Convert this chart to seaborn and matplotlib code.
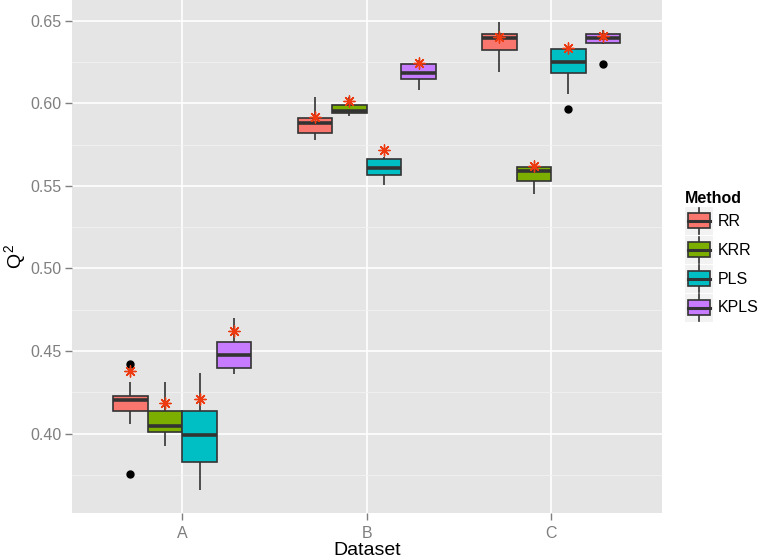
import numpy as np
import pandas as pd
import matplotlib
matplotlib.use("Agg")
import matplotlib.pyplot as plt
from matplotlib.legend_handler import HandlerBase
from matplotlib.patches import Rectangle, Patch
from matplotlib.lines import Line2D
from matplotlib.ticker import MultipleLocator, FormatStrFormatter
import seaborn as sns

plt.rcParams["font.family"] = ["Liberation Sans", "DejaVu Sans"]
plt.rcParams["mathtext.fontset"] = "custom"
plt.rcParams["mathtext.rm"] = "Liberation Sans"
plt.rcParams["mathtext.it"] = "Liberation Sans"

datasets = ["A", "B", "C"]
methods = ["RR", "KRR", "PLS", "KPLS"]
colors = ["#F8766D", "#7CAE00", "#00BFC4", "#C77CFF"]

# box summaries, order: A-RR, A-KRR, A-PLS, A-KPLS, B-..., C-...
q1 = [0.4135, 0.4008, 0.3826, 0.4396,
      0.5822, 0.5940, 0.5565, 0.6145,
      0.6322, 0.5529, 0.6185, 0.6363]
median = [0.4206, 0.4048, 0.3990, 0.4475,
          0.5880, 0.5953, 0.5607, 0.6183,
          0.6393, 0.5592, 0.6252, 0.6392]
q3 = [0.4230, 0.4135, 0.4135, 0.4556,
      0.5910, 0.5992, 0.5660, 0.6240,
      0.6422, 0.5613, 0.6327, 0.6418]
whisker_lo = [0.4055, 0.3923, 0.3660, 0.4358,
              0.5775, 0.5922, 0.5502, 0.6080,
              0.6191, 0.5452, 0.6058, 0.6357]
whisker_hi = [0.4313, 0.4311, 0.4367, 0.4697,
              0.6035, 0.6035, 0.5674, 0.6260,
              0.6489, 0.5625, 0.6340, 0.6444]
outlier_box = [("A", "RR"), ("A", "RR"), ("C", "PLS"), ("C", "KPLS")]
outlier_val = [0.4424, 0.3756, 0.5963, 0.6236]

# red asterisks
star = [0.4378, 0.4186, 0.4210, 0.4620,
        0.5916, 0.6013, 0.5719, 0.6242,
        0.6401, 0.5619, 0.6337, 0.6407]
star_color = "#EE3A10"

# rebuild a sample per box that reproduces the summary exactly
rows = []
star_rows = []
i = 0
for d in datasets:
    for m in methods:
        outs = [v for b, v in zip(outlier_box, outlier_val) if b == (d, m)]
        lo_out = [v for v in outs if v < q1[i]]
        hi_out = [v for v in outs if v > q3[i]]
        vals = (lo_out + [whisker_lo[i]] * (4 - len(lo_out)) + [q1[i]] * 4
                + [median[i]] + [q3[i]] * 4
                + [whisker_hi[i]] * (4 - len(hi_out)) + hi_out)
        rows += [(d, m, v) for v in vals]
        star_rows.append((d, m, star[i]))
        i += 1
df = pd.DataFrame(rows, columns=["Dataset", "Method", "Q2"])
stars = pd.DataFrame(star_rows, columns=["Dataset", "Method", "Q2"])

fig = plt.figure(figsize=(7.6, 5.59), dpi=100)
ax = fig.add_axes([71.7 / 760, 46 / 559, 590 / 760, 513 / 559])
ax.set_facecolor("#E5E5E5")

edge = "#333333"
sns.boxplot(data=df, x="Dataset", y="Q2", hue="Method", order=datasets,
            hue_order=methods, palette=colors, saturation=1, width=0.75,
            gap=0, linecolor=edge, linewidth=1.2, showcaps=False,
            medianprops=dict(linewidth=2.6, color=edge),
            flierprops=dict(marker="o", markerfacecolor="black",
                            markeredgecolor="black", markersize=5),
            legend=False, ax=ax)

n_before = len(ax.collections)
sns.stripplot(data=stars, x="Dataset", y="Q2", hue="Method", order=datasets,
              hue_order=methods, palette=[star_color] * 4, dodge=True,
              jitter=False, marker=(8, 2, 0), size=8, linewidth=1.0,
              legend=False, zorder=5, ax=ax)
# stripplot dodges over 0.8 of the slot, the boxes use 0.75
for coll in ax.collections[n_before:]:
    off = coll.get_offsets()
    base = np.round(off[:, 0])
    off[:, 0] = base + (off[:, 0] - base) * 0.75 / 0.8
    coll.set_offsets(off)
    coll.set_edgecolor(star_color)
    coll.set_linewidth(1.0)

ax.set_xlim(-0.6, 2.6)
ax.set_ylim(0.3519, 0.6625)
ax.yaxis.set_major_locator(MultipleLocator(0.05))
ax.yaxis.set_minor_locator(MultipleLocator(0.025))
ax.yaxis.set_major_formatter(FormatStrFormatter("%.2f"))
ax.set_axisbelow(True)
ax.grid(which="major", color="white", linewidth=1.2)
ax.grid(which="minor", axis="y", color="#F2F2F2", linewidth=0.6)
for s in ax.spines.values():
    s.set_visible(False)
ax.tick_params(which="major", length=5, width=1, color="#7F7F7F",
               labelcolor="#7F7F7F", labelsize=11.5)
ax.tick_params(axis="y", pad=2)
ax.tick_params(axis="x", pad=4)
ax.tick_params(which="minor", length=0)
ax.set_xlabel("Dataset", fontsize=14, labelpad=1)
ax.set_ylabel("$Q^2$", fontsize=14, labelpad=2)


class BoxKey(HandlerBase):
    def create_artists(self, legend, orig_handle, xdescent, ydescent,
                       width, height, fontsize, trans):
        x0, y0 = -xdescent, -ydescent
        cx = x0 + width / 2
        bw = width * 0.8
        bh = height * 0.53
        by = y0 + (height - bh) / 2
        bg = Rectangle((x0, y0), width, height, facecolor="#F2F2F2",
                       edgecolor="none", transform=trans)
        wh = Line2D([cx, cx], [y0 + height * 0.03, y0 + height * 0.97],
                    color=edge, lw=1.2, transform=trans)
        box = Rectangle((cx - bw / 2, by), bw, bh,
                        facecolor=orig_handle.get_facecolor(),
                        edgecolor=edge, lw=1.2, transform=trans)
        med = Line2D([cx - bw / 2, cx + bw / 2], [y0 + height / 2] * 2,
                     color=edge, lw=2.2, transform=trans)
        return [bg, wh, box, med]


handles = [Patch(facecolor=c, label=m) for m, c in zip(methods, colors)]
leg = fig.legend(handles=handles, handler_map={Patch: BoxKey()},
                 title="Method", loc="upper left",
                 bbox_to_anchor=(685 / 760, 1 - 191 / 559),
                 frameon=False, fontsize=11.5, handlelength=1.75,
                 handleheight=2.33, labelspacing=0.05, handletextpad=0.3,
                 borderpad=0, borderaxespad=0, alignment="left",
                 title_fontproperties={"weight": "bold", "size": 11.5})

fig.savefig("out.png", dpi=100)
